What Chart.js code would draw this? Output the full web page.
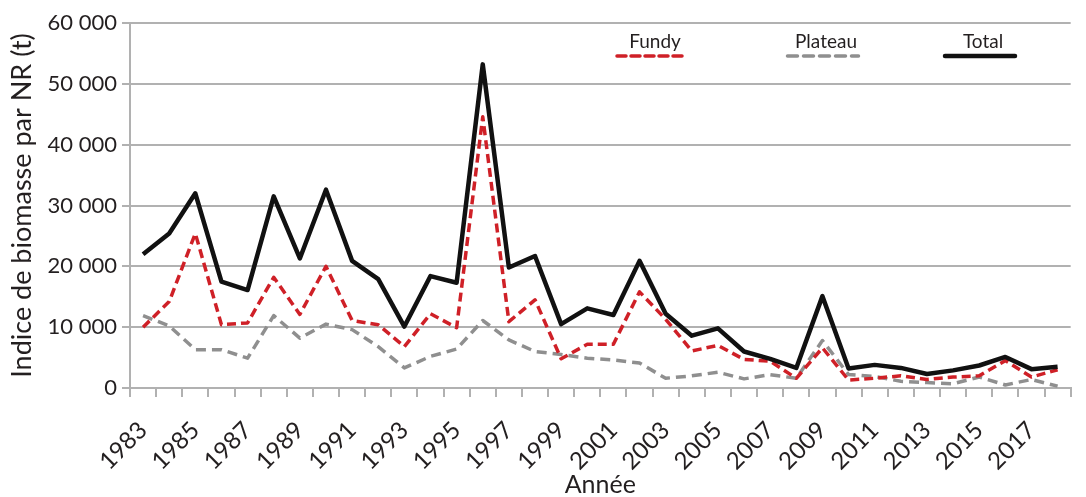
<!DOCTYPE html>
<html lang="fr">
<head>
<meta charset="utf-8">
<script src="https://cdn.jsdelivr.net/npm/chart.js@4.4.1/dist/chart.umd.min.js"></script>
<style>
  html, body { margin: 0; padding: 0; background: #fff; overflow: hidden; }
  #wrap { position: relative; width: 1097px; height: 497px; }
</style>
</head>
<body>
<div id="wrap"><canvas id="chart"></canvas></div>
<script>
const years = [];
for (let y = 1983; y <= 2018; y++) years.push(String(y));

const fundy = [10000, 14200, 25400, 10400, 10700, 18200, 12100, 20000, 11100, 10400, 6800, 12200,
               9900, 44600, 10900, 14500, 4800, 7200, 7200, 15800, 11300, 6100, 7000, 4700,
               4400, 1600, 6600, 1300, 1600, 2000, 1400, 1800, 2000, 4500, 1800, 3000];
const plateau = [11900, 10200, 6300, 6300, 4900, 11900, 8200, 10500, 9600, 6800, 3300, 5200,
                 6400, 11100, 7900, 6000, 5500, 4900, 4600, 4100, 1600, 2000, 2600, 1500,
                 2200, 1600, 7800, 2200, 1900, 1100, 900, 700, 1800, 500, 1400, 300];
const total = [22000, 25400, 32000, 17500, 16100, 31500, 21300, 32600, 20900, 17900, 10100, 18400,
               17300, 53200, 19800, 21700, 10500, 13100, 12000, 20900, 12200, 8600, 9800, 6000,
               4800, 3300, 15100, 3200, 3800, 3300, 2300, 2900, 3700, 5100, 3100, 3500];

const yTicks = [0, 10000, 20000, 30000, 40000, 50000, 60000];

const FONT = 'Lato, "Open Sans", sans-serif';
const INK = '#231f20';
const GRID = '#b1b1b1';

// legende : texte au-dessus d'un trait, comme sur la figure
const legendSpots = [
    { x: 652, textY: 48, lineY: 56, w: 70 },
    { x: 823, textY: 48, lineY: 56, w: 71 },
    { x: 980, textY: 48, lineY: 56, w: 70 }
];

const topLegend = {
    id: 'topLegend',
    afterDraw(chart) {
        const ctx = chart.ctx;
        ctx.save();
        chart.data.datasets.forEach((ds, i) => {
            const s = legendSpots[i];
            ctx.font = '19px ' + FONT;
            ctx.fillStyle = INK;
            ctx.textAlign = 'center';
            ctx.textBaseline = 'alphabetic';
            ctx.fillText(ds.label, s.x + 3, s.textY);
            ctx.beginPath();
            ctx.strokeStyle = ds.borderColor;
            ctx.lineWidth = ds.borderWidth;
            ctx.lineCap = 'round';
            ctx.setLineDash(ds.borderDash || []);
            ctx.moveTo(s.x - s.w / 2, s.lineY);
            ctx.lineTo(s.x + s.w / 2, s.lineY);
            ctx.stroke();
        });
        ctx.restore();
    }
};

const fmt = v => String(v).replace(/\B(?=(\d{3})+(?!\d))/g, ' ');

new Chart(document.getElementById('chart'), {
    type: 'line',
    data: {
        labels: years,
        datasets: [
            {
                label: 'Fundy',
                data: fundy,
                borderColor: '#cf2027',
                borderWidth: 3.5,
                borderDash: [9, 5],
                borderJoinStyle: 'round',
                pointRadius: 0,
                tension: 0,
                order: 1
            },
            {
                label: 'Plateau',
                data: plateau,
                borderColor: '#8f8f8f',
                borderWidth: 3.5,
                borderDash: [10, 6],
                borderJoinStyle: 'round',
                pointRadius: 0,
                tension: 0,
                order: 2
            },
            {
                label: 'Total',
                data: total,
                borderColor: '#111111',
                borderWidth: 4.5,
                borderJoinStyle: 'round',
                pointRadius: 0,
                tension: 0,
                order: 0
            }
        ]
    },
    options: {
        responsive: true,
        maintainAspectRatio: false,
        animation: false,
        layout: { padding: { top: 23, right: 2, left: 0, bottom: 0 } },
        plugins: {
            legend: { display: false },
            tooltip: { enabled: false }
        },
        scales: {
            x: {
                offset: true,
                grid: {
                    offset: true,
                    drawOnChartArea: false,
                    drawTicks: true,
                    tickLength: 9,
                    color: GRID,
                    lineWidth: 2
                },
                border: { display: true, color: GRID, width: 2 },
                ticks: {
                    autoSkip: false,
                    minRotation: 45,
                    maxRotation: 45,
                    padding: 19,
                    color: INK,
                    font: { family: FONT, size: 24 },
                    callback: (v, i) => (i % 2 === 0 ? years[i] : '')
                },
                title: {
                    display: true,
                    text: 'Année',
                    color: INK,
                    font: { family: FONT, size: 25, lineHeight: 1 },
                    padding: { top: 0, bottom: 0 }
                },
                afterFit: s => { s.height = 109; }
            },
            y: {
                min: 0,
                max: 60000,
                afterBuildTicks: s => { s.ticks = yTicks.map(v => ({ value: v })); },
                grid: { color: GRID, lineWidth: 2, tickLength: 8 },
                border: { display: true, color: GRID, width: 2 },
                ticks: {
                    padding: 5,
                    color: INK,
                    font: { family: FONT, size: 22 },
                    callback: v => fmt(v)
                },
                title: {
                    display: true,
                    text: 'Indice de biomasse par NR (t)',
                    color: INK,
                    font: { family: FONT, size: 27 },
                    padding: { top: 6, bottom: 2 }
                },
                afterFit: s => { s.width = 130; }
            }
        }
    },
    plugins: [topLegend]
});
</script>
</body>
</html>
